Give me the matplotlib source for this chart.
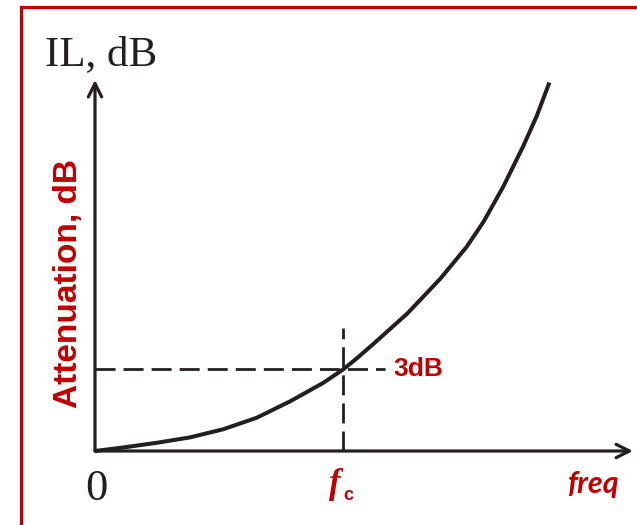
import matplotlib.pyplot as plt
from matplotlib.patches import Rectangle

# curve: frequency (f/fc) vs insertion loss (dB)
freq = [0.0, 0.114, 0.248, 0.383, 0.517, 0.651, 0.785, 0.919, 1.0, 1.054, 1.121,
        1.258, 1.391, 1.497, 1.565, 1.645, 1.725, 1.779, 1.830]
il_db = [0.0, 0.13, 0.30, 0.50, 0.80, 1.22, 1.82, 2.50, 3.0, 3.40, 3.93,
         5.05, 6.33, 7.50, 8.42, 9.72, 11.2, 12.3, 13.53]

fc = 1.0
cutoff_db = 3.0

ink = '#231f20'
red = '#c00000'

W, H = 637, 525
fig = plt.figure(figsize=(W / 100, H / 100), dpi=100)

# red frame, cut off on the right and bottom
fig.patches.append(Rectangle((20.5 / W, -0.5), 2.0, 1.5 - 6.5 / H, transform=fig.transFigure,
                             fill=False, edgecolor=red, lw=2.3, clip_on=False))

ax = fig.add_axes([95 / W, 74 / H, 538 / W, 371 / H])
xmax, ymax = 538 / 248.3, 371 / 81.7 * 3
ax.set_xlim(0, xmax)
ax.set_ylim(0, ymax)
ax.axis('off')

# axes with arrow heads
arrow = dict(arrowstyle='->', lw=2.3, color=ink, mutation_scale=24, shrinkA=0, shrinkB=0)
ax.annotate('', xy=(xmax, 0), xytext=(0, 0), arrowprops=arrow, annotation_clip=False)
ax.annotate('', xy=(0, ymax), xytext=(0, 0), arrowprops=arrow, annotation_clip=False)

# curve
ax.plot(freq, il_db, color=ink, lw=2.9, solid_capstyle='butt', solid_joinstyle='round', clip_on=False)

# dashed guides at the 3 dB point
ax.plot([0, 1.168], [cutoff_db, cutoff_db], color=ink, lw=2.0, dashes=(7.2, 2.9))
ax.plot([fc, fc], [0, 4.52], color=ink, lw=2.0, dashes=(7.2, 2.9))

# labels
fig.text(45 / W, 1 - 65 / H, 'IL, dB', family='Liberation Serif', fontsize=31, color=ink, va='baseline')
fig.text(96 / W, 1 - 500 / H, '0', family='Liberation Serif', fontsize=32, color=ink, ha='center', va='baseline')
fig.text(393 / W, 1 - 376 / H, '3dB', family='Liberation Sans', weight='bold', fontsize=19, color=red, va='baseline')
fig.text(329 / W, 1 - 493 / H, 'f', family='Liberation Serif', weight='bold', style='italic', fontsize=25,
         color=red, va='baseline')
fig.text(343 / W, 1 - 500 / H, 'c', family='Liberation Sans', weight='bold', fontsize=13, color=red, va='baseline')
fig.text(568 / W, 1 - 493 / H, 'freq', family='Lato', weight='bold', style='italic', fontsize=22,
         color=red, va='baseline')
fig.text(68 / W, 1 - 283 / H, 'Attenuation, dB', family='Liberation Sans', weight='bold', fontsize=24,
         color=red, rotation=90, ha='center', va='center')

fig.savefig('out.png', dpi=100)
